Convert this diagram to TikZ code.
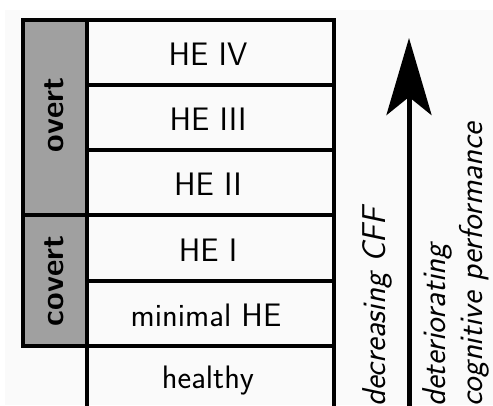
\documentclass[tikz,border=0pt]{standalone}
\usetikzlibrary{arrows.meta}
\definecolor{bgc}{RGB}{250,250,250}
\definecolor{cellgray}{RGB}{160,160,160}
\tikzset{
  rule/.style={line width=4pt, line join=miter, line cap=rect},
  stagetext/.style={inner sep=0pt, anchor=base, font=\sffamily\fontsize{32.5}{38}\selectfont},
  grouptext/.style={inner sep=0pt, anchor=base, rotate=90, font=\sffamily\bfseries\fontsize{32}{38}\selectfont},
  sidetext/.style={inner sep=0pt, anchor=base west, rotate=90, font=\sffamily\itshape\fontsize{33}{38}\selectfont},
}
\begin{document}
\begin{tikzpicture}[x=1pt,y=-1pt]
\useasboundingbox (0,0) rectangle (493,405);
\fill[bgc] (5,10) rectangle (493,405);
\fill[cellgray] (22.7,20) rectangle (87,345.5);
% table rules
\draw[rule] (333.5,345.5) -- (22.7,345.5) -- (22.7,20) -- (333.5,20) -- (333.5,412);
\draw[rule] (87,20) -- (87,412);
\draw[rule] (87,85) -- (333.5,85);
\draw[rule] (87,150) -- (333.5,150);
\draw[rule] (22.7,215) -- (333.5,215);
\draw[rule] (87,280.5) -- (333.5,280.5);
% stage labels
\node[stagetext] (he4) at (208,65) {HE IV};
\node[stagetext] (he3) at (208,130) {HE III};
\node[stagetext] (he2) at (208,195) {HE II};
\node[stagetext] (he1) at (208,261) {HE I};
\node[stagetext] (mhe) at (206,326.5) {minimal HE};
\node[stagetext] (hea) at (208,388) {healthy};
% group labels
\node[grouptext] (overt) at (63.5,115) {overt};
\node[grouptext] (covert) at (63.5,281) {covert};
% side labels
\node[sidetext] (cff) at (385,407) {decreasing CFF};
\node[sidetext] (det) at (445,407) {deteriorating};
\node[sidetext] (cog) at (482,407) {cognitive performance};
% arrow
\coordinate (abot) at (409,412);
\coordinate (atop) at (409,38);
\draw[line width=5pt, -{Stealth[length=77pt,width=45pt,inset=18pt]}] (abot) -- (atop);
\end{tikzpicture}
\end{document}
